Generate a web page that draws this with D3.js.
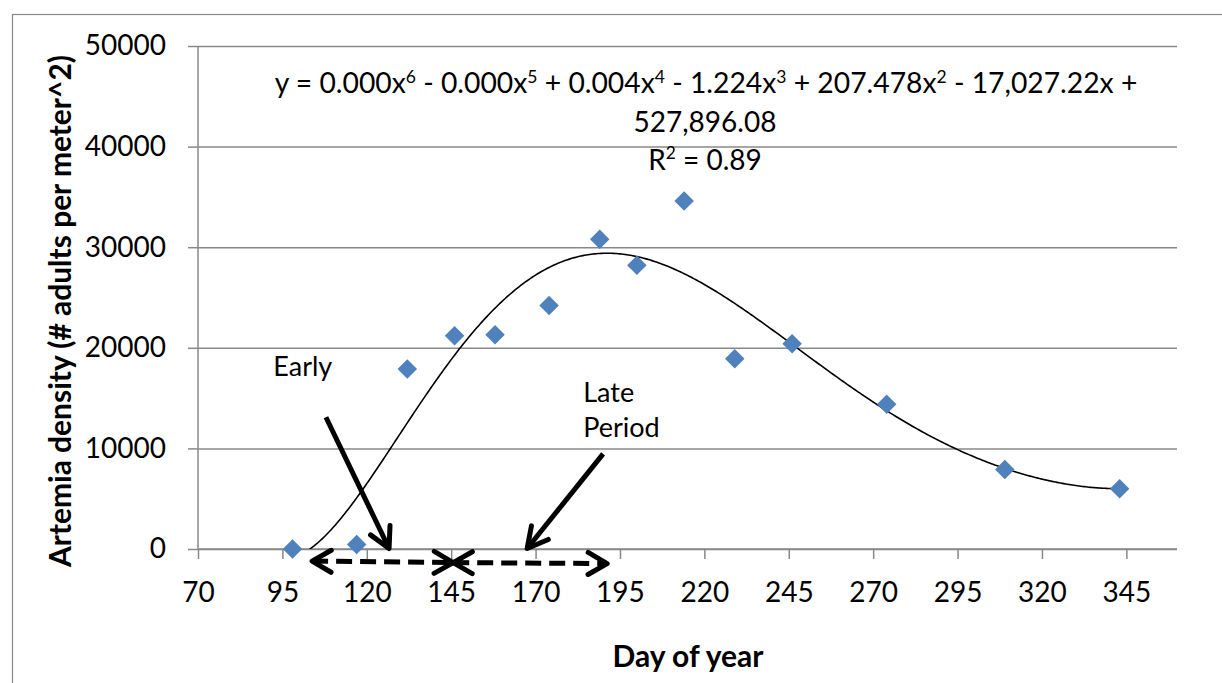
<!DOCTYPE html>
<html>
<head>
<meta charset="utf-8">
<script src="https://cdn.jsdelivr.net/npm/d3@7"></script>
<style>
body { margin: 0; background: #fff; }
text { font-family: Lato, "Open Sans", sans-serif; fill: #000; }
</style>
</head>
<body>
<div id="chart"></div>
<script>
// day of year / artemia density
var days = [98, 117, 132, 146, 158, 174, 189, 200, 214, 229, 246, 274, 309, 343];
var density = [0, 450, 17900, 21200, 21300, 24200, 30800, 28200, 34600, 18900, 20400, 14400, 7900, 6000];

var xTicks = [70, 95, 120, 145, 170, 195, 220, 245, 270, 295, 320, 345];
var yTicks = [0, 10000, 20000, 30000, 40000, 50000];
var xDomain = [70, 360];
var yDomain = [0, 50000];

// trendline label, superscripts kept apart
var equationParts = [["y = 0.000x", "6"], [" - 0.000x", "5"], [" + 0.004x", "4"], [" - 1.224x", "3"], [" + 207.478x", "2"], [" - 17,027.22x +", ""]];
var equationRest = "527,896.08";
var rSquared = "0.89";

// hand drawn annotations, in data units (day, density)
var pointers = [
	{ from: [107.9, 13100], to: [126.6, 50] },
	{ from: [190.0, 9450], to: [167.5, 50] }
];
var spans = [
	{ from: [103.8, -1200], to: [145.6, -1350] },
	{ from: [145.6, -1350], to: [191.2, -1450] }
];
var notes = [
	{ text: "Early", at: [92.3, 17150] },
	{ text: "Late", at: [184.1, 14650] },
	{ text: "Period", at: [184.1, 11150] }
];

function polyFit(xs, ys, degree) {
	// least squares on a normalised x so the normal equations stay sane
	var mid = (d3.min(xs) + d3.max(xs)) / 2;
	var half = (d3.max(xs) - d3.min(xs)) / 2;
	var n = degree + 1;
	var A = [];
	for (var i = 0; i < n; i++) {
		A.push(new Array(n + 1).fill(0));
	}
	for (var k = 0; k < xs.length; k++) {
		var t = (xs[k] - mid) / half;
		for (var i = 0; i < n; i++) {
			for (var j = 0; j < n; j++) {
				A[i][j] += Math.pow(t, i + j);
			}
			A[i][n] += ys[k] * Math.pow(t, i);
		}
	}
	for (var c = 0; c < n; c++) {
		var p = c;
		for (var r = c + 1; r < n; r++) {
			if (Math.abs(A[r][c]) > Math.abs(A[p][c])) p = r;
		}
		var tmp = A[c]; A[c] = A[p]; A[p] = tmp;
		for (var r = 0; r < n; r++) {
			if (r == c) continue;
			var f = A[r][c] / A[c][c];
			for (var j = c; j <= n; j++) A[r][j] -= f * A[c][j];
		}
	}
	var coef = [];
	for (var i = 0; i < n; i++) coef.push(A[i][n] / A[i][i]);
	return function(x) {
		var t = (x - mid) / half;
		var s = 0;
		for (var i = n - 1; i >= 0; i--) s = s * t + coef[i];
		return s;
	};
}

function fitWidth(sel, target) {
	var fs = parseFloat(sel.attr("font-size"));
	var w = sel.node().getComputedTextLength();
	sel.attr("font-size", (fs * target / w).toFixed(2));
}

function arrowHead(g, tip, back, len, spread) {
	var ang = Math.atan2(back[1] - tip[1], back[0] - tip[0]);
	var a1 = ang - spread * Math.PI / 180;
	var a2 = ang + spread * Math.PI / 180;
	g.append("path")
		.attr("d", "M" + (tip[0] + len * Math.cos(a1)) + "," + (tip[1] + len * Math.sin(a1)) +
			"L" + tip[0] + "," + tip[1] +
			"L" + (tip[0] + len * Math.cos(a2)) + "," + (tip[1] + len * Math.sin(a2)))
		.attr("fill", "none")
		.attr("stroke", "#000")
		.attr("stroke-width", 5)
		.attr("stroke-linecap", "round")
		.attr("stroke-linejoin", "round");
}

var width = 1222;
var height = 683;
var plotLeft = 198, plotRight = 1177, plotTop = 46, plotBottom = 549;

var svg = d3.select("#chart")
	.append("svg")
	.attr("width", width)
	.attr("height", height);

svg.append("rect")
	.attr("x", 12.5)
	.attr("y", 14.5)
	.attr("width", 1220)
	.attr("height", 700)
	.attr("fill", "none")
	.attr("stroke", "#888")
	.attr("stroke-width", 1.2);

var x = d3.scaleLinear().domain(xDomain).range([plotLeft, plotRight]);
var y = d3.scaleLinear().domain(yDomain).range([plotBottom, plotTop]);

svg.append("clipPath")
	.attr("id", "plot")
	.append("rect")
	.attr("x", plotLeft)
	.attr("y", plotTop)
	.attr("width", plotRight - plotLeft)
	.attr("height", plotBottom - plotTop);

// y axis with gridlines
var yAxis = svg.append("g")
	.attr("transform", "translate(" + plotLeft + ",0)")
	.call(d3.axisLeft(y).tickValues(yTicks).tickSize(10).tickPadding(22).tickFormat(d3.format("d")));
yAxis.selectAll(".tick line").clone()
	.attr("x2", plotRight - plotLeft);
yAxis.selectAll("line, path").attr("stroke", "#888").attr("stroke-width", 1.5);
yAxis.select(".domain").attr("d", "M0," + plotTop + "V" + plotBottom);
yAxis.selectAll("text")
	.attr("font-size", 28)
	.attr("font-family", "Lato")
	.attr("fill", "#000");

var xAxis = svg.append("g")
	.attr("transform", "translate(0," + plotBottom + ")")
	.call(d3.axisBottom(x).tickValues(xTicks).tickSize(10));
xAxis.selectAll("line, path").attr("stroke", "#888").attr("stroke-width", 1.5);
xAxis.select(".domain").attr("d", "M" + plotLeft + ",0H" + plotRight);
xAxis.selectAll("text")
	.attr("y", 53)
	.attr("dy", null)
	.attr("font-size", 28)
	.attr("font-family", "Lato")
	.attr("fill", "#000");

// 6th order trendline fitted to the points
var trend = polyFit(days, density, 6);
var curve = d3.range(d3.min(days), d3.max(days) + 0.01, 0.5).map(function(d) { return [d, trend(d)]; });
svg.append("path")
	.datum(curve)
	.attr("clip-path", "url(#plot)")
	.attr("d", d3.line().x(function(d) { return x(d[0]); }).y(function(d) { return y(d[1]); }))
	.attr("fill", "none")
	.attr("stroke", "#000")
	.attr("stroke-width", 1.6);

var points = svg.append("g").attr("class", "points");
for (var i = 0; i < days.length; i++) {
	points.append("path")
		.attr("d", d3.symbol().type(d3.symbolSquare).size(190)())
		.attr("transform", "translate(" + x(days[i]) + "," + y(density[i]) + ") rotate(45)")
		.attr("fill", "#4F81BD");
}

// equation label
var eq = svg.append("text")
	.attr("x", 706)
	.attr("y", 93)
	.attr("text-anchor", "middle")
	.attr("font-size", 25);
var shift = 0;
equationParts.forEach(function(p) {
	eq.append("tspan").attr("dy", shift).text(p[0]);
	shift = 0;
	if (p[1]) {
		eq.append("tspan").attr("font-size", "0.62em").attr("dy", -10).text(p[1]);
		shift = 10;
	}
});
fitWidth(eq, 863);

svg.append("text")
	.attr("x", 705)
	.attr("y", 132)
	.attr("text-anchor", "middle")
	.attr("font-size", 28)
	.text(equationRest);

var r2 = svg.append("text")
	.attr("x", 705)
	.attr("y", 170)
	.attr("text-anchor", "middle")
	.attr("font-size", 28);
r2.append("tspan").text("R");
r2.append("tspan").attr("font-size", "0.62em").attr("dy", -11).text("2");
r2.append("tspan").attr("dy", 11).text(" = " + rSquared);

// annotations
var ann = svg.append("g").attr("class", "annotations");
pointers.forEach(function(a) {
	var p0 = [x(a.from[0]), y(a.from[1])];
	var p1 = [x(a.to[0]), y(a.to[1])];
	ann.append("line")
		.attr("x1", p0[0]).attr("y1", p0[1])
		.attr("x2", p1[0]).attr("y2", p1[1])
		.attr("stroke", "#000")
		.attr("stroke-width", 5);
	arrowHead(ann, p1, p0, 23, 28);
});
spans.forEach(function(a) {
	var p0 = [x(a.from[0]), y(a.from[1])];
	var p1 = [x(a.to[0]), y(a.to[1])];
	ann.append("line")
		.attr("x1", p0[0]).attr("y1", p0[1])
		.attr("x2", p1[0]).attr("y2", p1[1])
		.attr("stroke", "#000")
		.attr("stroke-width", 5)
		.attr("stroke-dasharray", "16,8");
	arrowHead(ann, p0, p1, 22, 30);
	arrowHead(ann, p1, p0, 22, 30);
});
notes.forEach(function(n) {
	ann.append("text")
		.attr("x", x(n.at[0]))
		.attr("y", y(n.at[1]))
		.attr("font-size", 27)
		.text(n.text);
});

// axis titles
var yt = svg.append("text")
	.attr("transform", "translate(71," + 311 + ") rotate(-90)")
	.attr("text-anchor", "middle")
	.attr("font-weight", "bold")
	.attr("font-size", 26)
	.text("Artemia density (# adults per meter^2)");
fitWidth(yt, 512);

var xt = svg.append("text")
	.attr("x", 688)
	.attr("y", 667)
	.attr("text-anchor", "middle")
	.attr("font-weight", "bold")
	.attr("font-size", 26)
	.text("Day of year");
fitWidth(xt, 151);
</script>
</body>
</html>
